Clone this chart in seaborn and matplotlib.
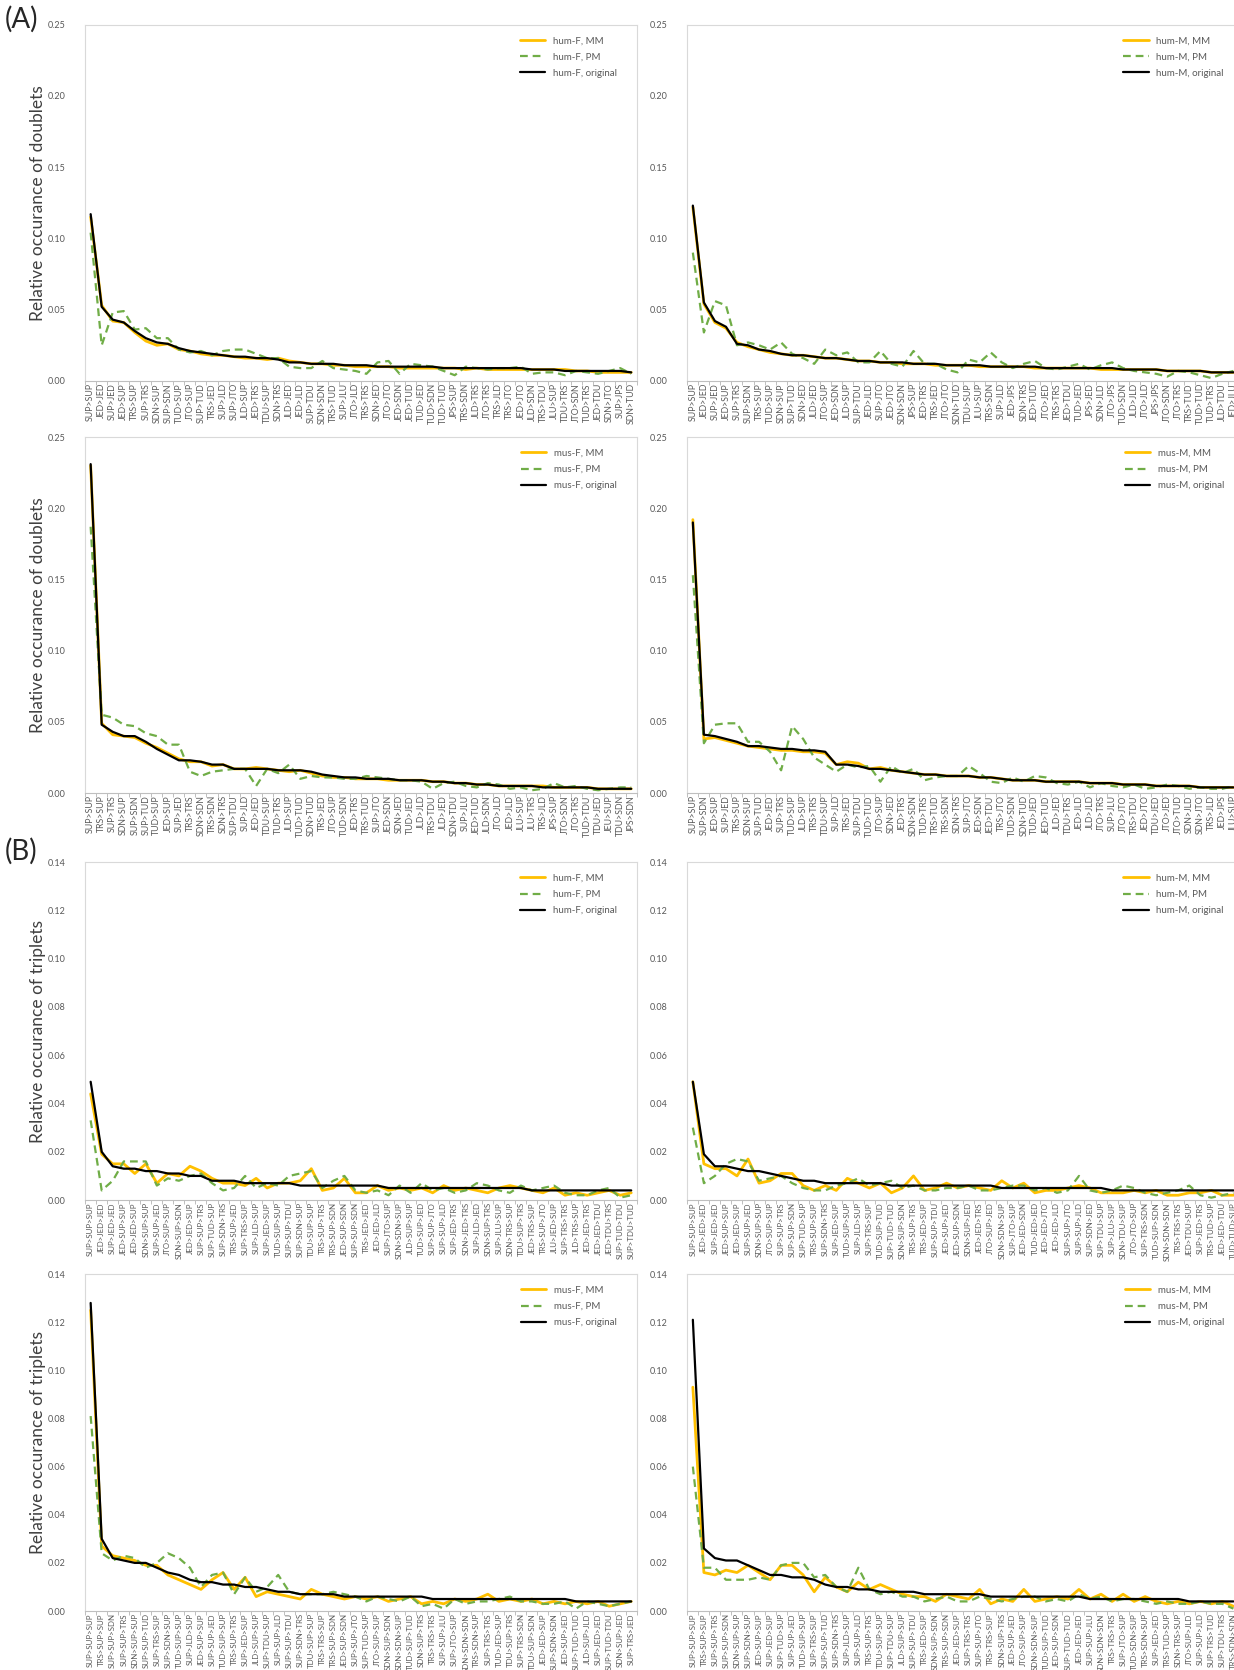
import numpy as np
import pandas as pd
import seaborn as sns
import matplotlib.pyplot as plt

# ---- data ----
lab_hf2 = ["SUP>SUP", "JED>JED", "SUP>JED", "JED>SUP", "TRS>SUP", "SUP>TRS", "SDN>SUP", "SUP>SDN", "TUD>SUP", "JTO>SUP",
           "SUP>TUD", "TRS>JED", "SUP>JLD", "SUP>JTO", "JLD>SUP", "JED>TRS", "TDU>SUP", "SDN>TRS", "JLD>JED", "JED>JLD",
           "SUP>TDU", "SDN>SDN", "TRS>TUD", "SUP>JLU", "JTO>JLD", "TRS>TRS", "SDN>JED", "JTO>JTO", "JED>SDN", "JED>TUD",
           "TUD>JED", "TUD>SDN", "TUD>TUD", "JPS>SUP", "TRS>SDN", "JLD>TRS", "JTO>TRS", "TRS>JLD", "TRS>JTO", "JED>JTO",
           "JLD>SDN", "TRS>TDU", "JLU>SUP", "TDU>TRS", "JTO>SDN", "TUD>TRS", "JED>TDU", "SDN>JTO", "SUP>JPS", "SDN>TUD"]
lab_hm2 = ["SUP>SUP", "JED>JED", "SUP>JED", "JED>SUP", "SUP>TRS", "SUP>SDN", "TRS>SUP", "TUD>SUP", "SDN>SUP", "SUP>TUD",
           "SDN>JED", "JLD>JED", "JTO>SUP", "JED>SDN", "JLD>SUP", "SUP>TDU", "JED>JLD", "SUP>JTO", "JED>JTO", "SDN>SDN",
           "JPS>SUP", "JED>TRS", "TRS>JED", "JTO>JTO", "SDN>TUD", "TDU>SUP", "JLU>SUP", "TRS>SDN", "SUP>JLD", "JED>JPS",
           "SDN>TRS", "JED>TUD", "JTO>JED", "TRS>TRS", "JED>TDU", "TUD>JED", "JPS>JED", "SDN>JLD", "JTO>JPS", "TUD>SDN",
           "JLD>JLD", "JTO>JLD", "JPS>JPS", "JTO>SDN", "JTO>TRS", "TRS>TUD", "TUD>TUD", "TUD>TRS", "JLD>TDU", "JED>JLU"]
lab_mf2 = ["SUP>SUP", "TRS>SUP", "SUP>TRS", "SDN>SUP", "SUP>SDN", "SUP>TUD", "TUD>SUP", "JED>SUP", "SUP>JED", "TRS>TRS",
           "SDN>SDN", "TRS>SDN", "SDN>TRS", "SUP>TDU", "SUP>JLD", "JED>JED", "TDU>SUP", "TUD>TRS", "JLD>SUP", "TUD>TUD",
           "SDN>TUD", "TRS>JED", "JTO>SUP", "TUD>SDN", "JED>TRS", "TRS>TUD", "SUP>JTO", "JED>SDN", "SDN>JED", "TUD>JED",
           "JLD>JLD", "TRS>TDU", "JLD>JED", "SDN>TDU", "SUP>JLU", "JED>TUD", "JLD>SDN", "JTO>JLD", "JED>JLD", "JLU>SUP",
           "JLU>TRS", "TRS>JLD", "JPS>SUP", "JTO>SDN", "JTO>TRS", "TUD>TDU", "TDU>JED", "JEU>SUP", "TDU>SDN", "JPS>SDN"]
lab_mm2 = ["SUP>SUP", "SUP>SDN", "JED>SUP", "SUP>JED", "TRS>SUP", "SDN>SUP", "SUP>TUD", "JED>JED", "SUP>TRS", "TUD>SUP",
           "JLD>SUP", "TRS>TRS", "TDU>SUP", "SUP>JLD", "TRS>JED", "SUP>TDU", "TUD>TUD", "JTO>SUP", "SDN>JED", "JED>TRS",
           "SDN>SDN", "TUD>TRS", "TRS>TUD", "TRS>SDN", "SDN>TRS", "SUP>JTO", "JED>SDN", "JED>TDU", "TRS>JTO", "TUD>SDN",
           "SDN>TUD", "TUD>JED", "JED>TUD", "JLD>JED", "TDU>TRS", "JED>JLD", "JLD>JLD", "JTO>TRS", "SUP>JLU", "JTO>JTO",
           "TRS>TDU", "JED>JTO", "TDU>JED", "JTO>JED", "JTO>TUD", "SDN>JLD", "SDN>JTO", "TRS>JLD", "JED>JPS", "JLU>SUP"]

lab_hf3 = ["SUP>SUP>SUP", "JED>JED>JED", "SUP>JED>JED", "JED>SUP>SUP", "JED>JED>SUP", "SDN>SUP>SUP", "SUP>SUP>JED",
           "JTO>SUP>SUP", "SDN>SUP>SDN", "JED>JED>SUP", "SUP>SUP>TRS", "SUP>TUD>SUP", "SUP>SDN>TRS", "TRS>SUP>JED",
           "SUP>TRS>SUP", "SUP>JLD>SUP", "SUP>JED>SUP", "TUD>SUP>SUP", "SUP>SUP>TDU", "SUP>SDN>SUP", "TDU>SUP>SUP",
           "TRS>SUP>TRS", "TRS>SUP>SDN", "JED>SUP>SDN", "SUP>SUP>SDN", "TRS>JED>JED", "JED>JED>JLD", "SUP>JTO>SUP",
           "SDN>SDN>SUP", "JLD>SUP>SUP", "TUD>SUP>JED", "SUP>SUP>JTO", "SUP>SUP>JLD", "SUP>JED>TRS", "SDN>JED>TRS",
           "SUP>JLD>JED", "SDN>SUP>TRS", "SUP>JLU>SUP", "SDN>TRS>SUP", "TDU>SUP>TRS", "JED>TRS>SUP", "TRS>SUP>JTO",
           "JLU>JED>SUP", "SUP>TRS>TRS", "JLD>TRS>SUP", "JED>JED>TRS", "JED>JED>TDU", "JED>TDU>TRS", "SUP>TUD>TDU",
           "SUP>TDU>TUD"]
lab_hm3 = ["SUP>SUP>SUP", "JED>JED>JED", "SUP>JED>JED", "JED>SUP>SUP", "JED>JED>SUP", "SUP>SUP>JED", "SDN>SUP>SUP",
           "JTO>SUP>SUP", "SUP>SUP>TRS", "SUP>SUP>SDN", "SUP>TUD>SUP", "TRS>SUP>SUP", "SUP>SDN>TRS", "SUP>JED>SUP",
           "TUD>SUP>SUP", "SUP>JLD>SUP", "SUP>TRS>SUP", "TUD>SUP>TUD", "SUP>TUD>TUD", "SDN>SUP>SDN", "TRS>SUP>TRS",
           "TRS>JED>SUP", "SUP>SUP>TDU", "JED>SUP>JED", "JED>SUP>SDN", "SDN>SUP>JED", "JED>JED>TRS", "JTO>SUP>JED",
           "SDN>SDN>SUP", "SUP>JTO>SUP", "JED>JED>SDN", "TUD>JED>JED", "JED>JED>JTO", "JED>JED>JLD", "SUP>SUP>JTO",
           "SUP>SUP>JLD", "SUP>SDN>JED", "SUP>TDU>SUP", "SUP>JLU>SUP", "SDN>TDU>SUP", "JTO>JTO>SUP", "SUP>TRS>SDN",
           "TUD>SUP>SDN", "SDN>SDN>SDN", "TRS>TRS>TRS", "JED>TDU>SUP", "SUP>JED>TRS", "TRS>TUD>SUP", "JED>JED>TDU",
           "TUD>TUD>SUP"]
lab_mf3 = ["SUP>SUP>SUP", "TRS>SUP>SUP", "SUP>SUP>SDN", "SUP>SUP>TRS", "SDN>SUP>SUP", "SUP>SUP>TUD", "SUP>TRS>SUP",
           "SUP>SDN>SUP", "TUD>SUP>SUP", "SUP>JLD>SUP", "JED>SUP>SUP", "SUP>SUP>JED", "TUD>SUP>SUP", "TRS>SUP>TRS",
           "SUP>JED>SUP", "JLD>SUP>SUP", "SUP>TDU>SUP", "SUP>SUP>JLD", "SUP>SUP>TDU", "SUP>SDN>TRS", "TDU>SUP>SUP",
           "TRS>TRS>SUP", "TRS>SUP>SDN", "JED>SUP>SDN", "SUP>SUP>JTO", "SUP>TUD>SUP", "JTO>SUP>SUP", "SDN>SUP>SDN",
           "SDN>SDN>SUP", "TUD>SUP>TUD", "SDN>SUP>TRS", "TRS>TRS>TRS", "SUP>SUP>JLU", "SUP>JTO>SUP", "SDN>SDN>SDN",
           "TRS>SDN>SUP", "SUP>TRS>TRS", "TUD>JED>SUP", "TDU>SUP>TRS", "SUP>TRS>SDN", "TDU>SUP>SDN", "JED>JED>SUP",
           "SUP>SDN>SDN", "JED>SUP>JED", "SUP>TUD>TUD", "JLD>SUP>JLD", "SUP>JED>JED", "SUP>TUD>TDU", "SDN>SUP>JED",
           "SUP>TRS>JED"]
lab_mm3 = ["SUP>SUP>SUP", "TRS>SUP>SUP", "SUP>SUP>TRS", "SUP>SUP>SDN", "SDN>SUP>SUP", "SUP>SDN>SUP", "JED>SUP>SUP",
           "SUP>JED>SUP", "SUP>TUD>SUP", "SUP>SUP>JED", "TUD>SUP>SUP", "SUP>TRS>SUP", "SUP>SUP>TUD", "SUP>SDN>TRS",
           "SUP>JLD>SUP", "SUP>SUP>JLD", "TRS>SUP>TRS", "TDU>SUP>SUP", "SUP>TDU>SUP", "JLD>SUP>SUP", "SUP>SUP>TDU",
           "TRS>JED>SUP", "SDN>SUP>SDN", "TRS>SUP>SDN", "JED>JED>SUP", "SUP>TRS>TRS", "SUP>SUP>JTO", "TRS>TRS>SUP",
           "SDN>SUP>TRS", "JED>SUP>JED", "JTO>SUP>SUP", "SDN>SDN>SUP", "TUD>SUP>TUD", "JED>SUP>SDN", "SUP>TUD>TUD",
           "JED>JED>JED", "SUP>SUP>JLU", "SDN>SDN>SDN", "TRS>TRS>TRS", "SUP>JTO>SUP", "TUD>SDN>SUP", "TRS>SDN>SUP",
           "SUP>JED>JED", "TRS>TUD>SUP", "SDN>TRS>SUP", "JTO>SUP>JLD", "SUP>SUP>JLD", "SUP>TRS>TUD", "SUP>TDU>TRS",
           "TRS>SDN>SDN"]

# hum-F doublets
hf2_mm = [0.115, 0.053, 0.042, 0.041, 0.034, 0.028, 0.025, 0.026, 0.022, 0.021, 0.019, 0.018, 0.018, 0.017, 0.016,
          0.016, 0.015, 0.016, 0.014, 0.013, 0.012, 0.012, 0.011, 0.011, 0.010, 0.010, 0.010, 0.010, 0.009, 0.009,
          0.009, 0.009, 0.009, 0.009, 0.008, 0.009, 0.008, 0.008, 0.008, 0.008, 0.008, 0.008, 0.008, 0.008, 0.007,
          0.007, 0.006, 0.006, 0.006, 0.006]
hf2_pm = [0.104, 0.025, 0.048, 0.049, 0.036, 0.037, 0.030, 0.030, 0.022, 0.020, 0.021, 0.018, 0.021, 0.022, 0.022,
          0.019, 0.016, 0.016, 0.010, 0.009, 0.009, 0.014, 0.009, 0.008, 0.007, 0.005, 0.013, 0.014, 0.005, 0.012,
          0.011, 0.010, 0.007, 0.004, 0.010, 0.009, 0.008, 0.009, 0.009, 0.010, 0.005, 0.006, 0.006, 0.004, 0.007,
          0.006, 0.005, 0.007, 0.009, 0.005]
hf2_or = [0.117, 0.052, 0.043, 0.041, 0.035, 0.030, 0.027, 0.026, 0.023, 0.021, 0.020, 0.019, 0.018, 0.017, 0.017,
          0.016, 0.016, 0.015, 0.013, 0.013, 0.012, 0.012, 0.012, 0.011, 0.011, 0.011, 0.010, 0.010, 0.010, 0.010,
          0.010, 0.010, 0.009, 0.009, 0.009, 0.009, 0.009, 0.009, 0.009, 0.009, 0.008, 0.008, 0.008, 0.007, 0.007,
          0.007, 0.007, 0.007, 0.007, 0.006]

# hum-M doublets
hm2_mm = [0.122, 0.054, 0.041, 0.037, 0.027, 0.024, 0.022, 0.020, 0.019, 0.018, 0.018, 0.017, 0.016, 0.016, 0.015,
          0.014, 0.014, 0.013, 0.013, 0.012, 0.012, 0.012, 0.011, 0.011, 0.011, 0.011, 0.010, 0.010, 0.010, 0.010,
          0.010, 0.009, 0.009, 0.009, 0.009, 0.009, 0.009, 0.008, 0.008, 0.008, 0.008, 0.008, 0.008, 0.007, 0.007,
          0.007, 0.007, 0.006, 0.006, 0.006]
hm2_pm = [0.090, 0.034, 0.056, 0.053, 0.025, 0.027, 0.025, 0.022, 0.027, 0.019, 0.016, 0.012, 0.022, 0.018, 0.020,
          0.013, 0.013, 0.021, 0.012, 0.010, 0.021, 0.012, 0.012, 0.008, 0.006, 0.015, 0.013, 0.020, 0.013, 0.009,
          0.012, 0.014, 0.009, 0.008, 0.010, 0.012, 0.008, 0.011, 0.013, 0.009, 0.007, 0.006, 0.005, 0.003, 0.007,
          0.006, 0.004, 0.002, 0.005, 0.007]
hm2_or = [0.123, 0.055, 0.042, 0.038, 0.026, 0.025, 0.022, 0.021, 0.019, 0.018, 0.018, 0.017, 0.016, 0.016, 0.015,
          0.014, 0.014, 0.013, 0.013, 0.013, 0.012, 0.012, 0.012, 0.011, 0.011, 0.011, 0.011, 0.010, 0.010, 0.010,
          0.010, 0.010, 0.009, 0.009, 0.009, 0.009, 0.009, 0.009, 0.009, 0.008, 0.008, 0.008, 0.008, 0.007, 0.007,
          0.007, 0.007, 0.006, 0.006, 0.006]

# mus-F doublets
mf2_mm = [0.230, 0.049, 0.041, 0.040, 0.039, 0.035, 0.032, 0.028, 0.024, 0.022, 0.022, 0.019, 0.020, 0.017, 0.017,
          0.018, 0.017, 0.016, 0.015, 0.016, 0.014, 0.012, 0.011, 0.011, 0.010, 0.010, 0.010, 0.009, 0.009, 0.009,
          0.009, 0.008, 0.008, 0.007, 0.007, 0.006, 0.006, 0.005, 0.005, 0.005, 0.005, 0.005, 0.004, 0.004, 0.004,
          0.004, 0.003, 0.003, 0.003, 0.003]
mf2_pm = [0.187, 0.055, 0.053, 0.048, 0.047, 0.042, 0.040, 0.034, 0.034, 0.015, 0.012, 0.015, 0.016, 0.017, 0.017,
          0.005, 0.017, 0.014, 0.020, 0.010, 0.012, 0.011, 0.011, 0.010, 0.010, 0.012, 0.011, 0.010, 0.009, 0.009,
          0.008, 0.003, 0.007, 0.008, 0.005, 0.004, 0.007, 0.006, 0.003, 0.004, 0.002, 0.003, 0.007, 0.004, 0.005,
          0.003, 0.002, 0.003, 0.004, 0.004]
mf2_or = [0.231, 0.048, 0.043, 0.040, 0.040, 0.036, 0.031, 0.027, 0.023, 0.023, 0.022, 0.020, 0.020, 0.017, 0.017,
          0.017, 0.017, 0.016, 0.016, 0.016, 0.015, 0.013, 0.012, 0.011, 0.011, 0.010, 0.010, 0.010, 0.009, 0.009,
          0.009, 0.008, 0.008, 0.007, 0.007, 0.006, 0.006, 0.005, 0.005, 0.005, 0.005, 0.004, 0.004, 0.004, 0.004,
          0.004, 0.003, 0.003, 0.003, 0.003]

# mus-M doublets
mm2_mm = [0.192, 0.038, 0.039, 0.037, 0.035, 0.033, 0.032, 0.031, 0.030, 0.030, 0.029, 0.029, 0.028, 0.020, 0.022,
          0.021, 0.017, 0.018, 0.016, 0.015, 0.014, 0.013, 0.013, 0.012, 0.012, 0.012, 0.011, 0.011, 0.010, 0.009,
          0.009, 0.009, 0.008, 0.008, 0.008, 0.008, 0.007, 0.007, 0.007, 0.006, 0.006, 0.006, 0.005, 0.005, 0.005,
          0.005, 0.004, 0.004, 0.004, 0.004]
mm2_pm = [0.153, 0.035, 0.048, 0.049, 0.049, 0.036, 0.036, 0.029, 0.016, 0.047, 0.038, 0.025, 0.020, 0.015, 0.020,
          0.018, 0.019, 0.008, 0.019, 0.014, 0.017, 0.009, 0.011, 0.012, 0.012, 0.019, 0.014, 0.008, 0.007, 0.011,
          0.008, 0.012, 0.011, 0.007, 0.006, 0.008, 0.004, 0.007, 0.005, 0.004, 0.006, 0.003, 0.004, 0.006, 0.005,
          0.003, 0.004, 0.003, 0.003, 0.005]
mm2_or = [0.190, 0.041, 0.040, 0.038, 0.036, 0.033, 0.033, 0.032, 0.031, 0.031, 0.030, 0.030, 0.029, 0.020, 0.020,
          0.019, 0.017, 0.017, 0.016, 0.015, 0.014, 0.013, 0.013, 0.012, 0.012, 0.012, 0.011, 0.011, 0.010, 0.009,
          0.009, 0.009, 0.008, 0.008, 0.008, 0.008, 0.007, 0.007, 0.007, 0.006, 0.006, 0.006, 0.005, 0.005, 0.005,
          0.005, 0.004, 0.004, 0.004, 0.004]

# hum-F triplets
hf3_mm = [0.044, 0.019, 0.015, 0.015, 0.011, 0.015, 0.007, 0.011, 0.010, 0.014, 0.012, 0.009, 0.007, 0.007, 0.006,
          0.009, 0.005, 0.007, 0.007, 0.008, 0.013, 0.004, 0.005, 0.009, 0.003, 0.003, 0.006, 0.004, 0.005, 0.004,
          0.005, 0.003, 0.006, 0.004, 0.005, 0.004, 0.003, 0.005, 0.006, 0.005, 0.004, 0.003, 0.005, 0.002, 0.003,
          0.002, 0.003, 0.004, 0.002, 0.003]
hf3_pm = [0.033, 0.004, 0.008, 0.016, 0.016, 0.016, 0.006, 0.009, 0.008, 0.010, 0.011, 0.007, 0.004, 0.005, 0.010,
          0.005, 0.007, 0.006, 0.010, 0.011, 0.012, 0.005, 0.008, 0.010, 0.004, 0.003, 0.004, 0.002, 0.006, 0.003,
          0.007, 0.004, 0.005, 0.003, 0.004, 0.007, 0.006, 0.004, 0.003, 0.006, 0.004, 0.005, 0.006, 0.003, 0.002,
          0.002, 0.004, 0.005, 0.001, 0.002]
hf3_or = [0.049, 0.020, 0.014, 0.013, 0.013, 0.012, 0.012, 0.011, 0.011, 0.010, 0.010, 0.008, 0.008, 0.008, 0.007,
          0.007, 0.007, 0.007, 0.007, 0.006, 0.006, 0.006, 0.006, 0.006, 0.006, 0.006, 0.006, 0.005, 0.005, 0.005,
          0.005, 0.005, 0.005, 0.005, 0.005, 0.005, 0.005, 0.005, 0.005, 0.005, 0.004, 0.004, 0.004, 0.004, 0.004,
          0.004, 0.004, 0.004, 0.004, 0.004]

# hum-M triplets
hm3_mm = [0.049, 0.015, 0.013, 0.013, 0.010, 0.017, 0.007, 0.008, 0.011, 0.011, 0.006, 0.004, 0.006, 0.004, 0.009,
          0.007, 0.005, 0.007, 0.003, 0.005, 0.010, 0.004, 0.005, 0.007, 0.005, 0.006, 0.005, 0.004, 0.008, 0.005,
          0.007, 0.003, 0.004, 0.004, 0.005, 0.006, 0.005, 0.003, 0.003, 0.003, 0.004, 0.003, 0.004, 0.002, 0.002,
          0.003, 0.003, 0.004, 0.002, 0.002]
hm3_pm = [0.030, 0.007, 0.010, 0.015, 0.017, 0.016, 0.008, 0.009, 0.010, 0.007, 0.005, 0.004, 0.004, 0.006, 0.007,
          0.009, 0.006, 0.007, 0.008, 0.005, 0.006, 0.004, 0.004, 0.005, 0.005, 0.006, 0.004, 0.004, 0.005, 0.006,
          0.006, 0.004, 0.005, 0.003, 0.004, 0.010, 0.004, 0.003, 0.004, 0.006, 0.005, 0.003, 0.002, 0.003, 0.004,
          0.006, 0.002, 0.001, 0.002, 0.003]
hm3_or = [0.049, 0.019, 0.014, 0.014, 0.013, 0.012, 0.012, 0.011, 0.010, 0.009, 0.008, 0.008, 0.007, 0.007, 0.007,
          0.007, 0.007, 0.007, 0.006, 0.006, 0.006, 0.006, 0.006, 0.006, 0.006, 0.006, 0.006, 0.006, 0.005, 0.005,
          0.005, 0.005, 0.005, 0.005, 0.005, 0.005, 0.005, 0.005, 0.004, 0.004, 0.004, 0.004, 0.004, 0.004, 0.004,
          0.004, 0.004, 0.004, 0.004, 0.004]

# mus-F triplets
mf3_mm = [0.125, 0.027, 0.023, 0.022, 0.021, 0.019, 0.019, 0.015, 0.013, 0.011, 0.009, 0.013, 0.016, 0.009, 0.014,
          0.006, 0.008, 0.007, 0.006, 0.005, 0.009, 0.007, 0.006, 0.005, 0.006, 0.005, 0.006, 0.004, 0.005, 0.006,
          0.003, 0.004, 0.003, 0.005, 0.004, 0.005, 0.007, 0.004, 0.005, 0.004, 0.005, 0.003, 0.004, 0.003, 0.004,
          0.003, 0.004, 0.002, 0.003, 0.004]
mf3_pm = [0.081, 0.024, 0.021, 0.023, 0.022, 0.018, 0.020, 0.024, 0.022, 0.018, 0.010, 0.015, 0.016, 0.007, 0.014,
          0.008, 0.010, 0.015, 0.008, 0.007, 0.007, 0.007, 0.008, 0.007, 0.006, 0.004, 0.006, 0.005, 0.004, 0.006,
          0.002, 0.003, 0.001, 0.005, 0.003, 0.004, 0.004, 0.005, 0.006, 0.004, 0.004, 0.003, 0.003, 0.004, 0.001,
          0.004, 0.003, 0.002, 0.003, 0.004]
mf3_or = [0.128, 0.030, 0.022, 0.021, 0.020, 0.020, 0.018, 0.016, 0.015, 0.013, 0.012, 0.012, 0.011, 0.011, 0.010,
          0.010, 0.009, 0.008, 0.008, 0.007, 0.007, 0.007, 0.007, 0.006, 0.006, 0.006, 0.006, 0.006, 0.006, 0.006,
          0.006, 0.005, 0.005, 0.005, 0.005, 0.005, 0.005, 0.005, 0.005, 0.005, 0.005, 0.005, 0.005, 0.005, 0.004,
          0.004, 0.004, 0.004, 0.004, 0.004]

# mus-M triplets
mm3_mm = [0.093, 0.016, 0.015, 0.017, 0.016, 0.019, 0.016, 0.013, 0.019, 0.019, 0.015, 0.008, 0.014, 0.010, 0.008,
          0.012, 0.009, 0.011, 0.009, 0.007, 0.006, 0.006, 0.004, 0.007, 0.006, 0.005, 0.009, 0.003, 0.005, 0.004,
          0.009, 0.004, 0.005, 0.006, 0.005, 0.009, 0.005, 0.007, 0.004, 0.007, 0.004, 0.006, 0.004, 0.003, 0.004,
          0.003, 0.004, 0.003, 0.004, 0.002]
mm3_pm = [0.060, 0.018, 0.018, 0.013, 0.013, 0.013, 0.014, 0.013, 0.019, 0.020, 0.020, 0.014, 0.015, 0.010, 0.008,
          0.018, 0.009, 0.007, 0.008, 0.006, 0.006, 0.004, 0.005, 0.006, 0.004, 0.004, 0.006, 0.005, 0.004, 0.005,
          0.006, 0.006, 0.004, 0.005, 0.004, 0.007, 0.005, 0.006, 0.004, 0.005, 0.005, 0.004, 0.003, 0.004, 0.003,
          0.003, 0.004, 0.003, 0.003, 0.001]
mm3_or = [0.121, 0.026, 0.022, 0.021, 0.021, 0.019, 0.017, 0.015, 0.015, 0.014, 0.014, 0.013, 0.011, 0.010, 0.010,
          0.009, 0.009, 0.008, 0.008, 0.008, 0.008, 0.007, 0.007, 0.007, 0.007, 0.007, 0.007, 0.006, 0.006, 0.006,
          0.006, 0.006, 0.006, 0.006, 0.006, 0.006, 0.005, 0.005, 0.005, 0.005, 0.005, 0.005, 0.005, 0.005, 0.005,
          0.004, 0.004, 0.004, 0.004, 0.004]

panels = [
    ("hum-F", lab_hf2, hf2_mm, hf2_pm, hf2_or, 0.25, 0.05, "doublets"),
    ("hum-M", lab_hm2, hm2_mm, hm2_pm, hm2_or, 0.25, 0.05, "doublets"),
    ("mus-F", lab_mf2, mf2_mm, mf2_pm, mf2_or, 0.25, 0.05, "doublets"),
    ("mus-M", lab_mm2, mm2_mm, mm2_pm, mm2_or, 0.25, 0.05, "doublets"),
    ("hum-F", lab_hf3, hf3_mm, hf3_pm, hf3_or, 0.14, 0.02, "triplets"),
    ("hum-M", lab_hm3, hm3_mm, hm3_pm, hm3_or, 0.14, 0.02, "triplets"),
    ("mus-F", lab_mf3, mf3_mm, mf3_pm, mf3_or, 0.14, 0.02, "triplets"),
    ("mus-M", lab_mm3, mm3_mm, mm3_pm, mm3_or, 0.14, 0.02, "triplets"),
]

sns.set_style("white")
plt.rcParams['font.family'] = ['Lato', 'DejaVu Sans']

fig = plt.figure(figsize=(12.34, 16.7), dpi=100)

lefts = [0.069, 0.557]
rows = [(0.7719, 0.2134), (0.5251, 0.2132), (0.2814, 0.2024), (0.0353, 0.2018)]
width = 0.447
gray = "#595959"

for i, (name, labels, mm, pm, orig, ymax, ystep, kind) in enumerate(panels):
    bottom, height = rows[i // 2]
    ax = fig.add_axes([lefts[i % 2], bottom, width, height])
    x = np.arange(len(labels))
    df = pd.DataFrame({"x": x, "mm": mm, "pm": pm, "orig": orig})
    sns.lineplot(data=df, x="x", y="mm", ax=ax, color="#FFC000", lw=2.0, label=f"{name}, MM")
    sns.lineplot(data=df, x="x", y="pm", ax=ax, color="#70AD47", lw=1.6, ls=(0, (3.5, 2.2)), label=f"{name}, PM")
    sns.lineplot(data=df, x="x", y="orig", ax=ax, color="black", lw=1.6, label=f"{name}, original")

    ax.set_xlim(-0.5, len(labels) - 0.5)
    ax.set_ylim(0, ymax)
    ticks = np.arange(0, ymax + 1e-9, ystep)
    ax.set_yticks(ticks)
    ax.set_yticklabels([f"{v:.2f}" for v in ticks])
    ax.set_xticks(x)
    ax.set_xticklabels(labels, rotation=90)
    ax.set_xticks(np.arange(len(labels) + 1) - 0.5, minor=True)
    xsize = 6.3 if kind == "doublets" else 5.7
    ax.tick_params(axis="x", which="major", length=0, labelsize=xsize, labelcolor=gray, pad=1.5)
    ax.tick_params(axis="x", which="minor", length=3, color="#bfbfbf", width=0.7, bottom=True)
    ax.tick_params(axis="y", length=0, labelsize=6.5, labelcolor=gray, pad=14)
    ax.set_xlabel("")
    if i % 2 == 0:
        ax.set_ylabel(f"Relative occurance of {kind}", fontsize=12.5, color="#404040", labelpad=1)
    else:
        ax.set_ylabel("")
    for sp in ax.spines.values():
        sp.set_color("#d9d9d9")
        sp.set_linewidth(0.8)
    ax.spines["bottom"].set_color("#bfbfbf")
    leg = ax.legend(loc="upper right", frameon=False, fontsize=7, handlelength=2.6,
                    labelspacing=0.75, borderaxespad=0.8,
                    bbox_to_anchor=(0.985 if i % 2 == 0 else 0.994, 1.0))
    for t in leg.get_texts():
        t.set_color(gray)

fig.text(0.004, 0.9885, "(A)", fontsize=20, va="center", ha="left")
fig.text(0.004, 0.4905, "(B)", fontsize=20, va="center", ha="left")

fig.savefig("out.png", dpi=100)
